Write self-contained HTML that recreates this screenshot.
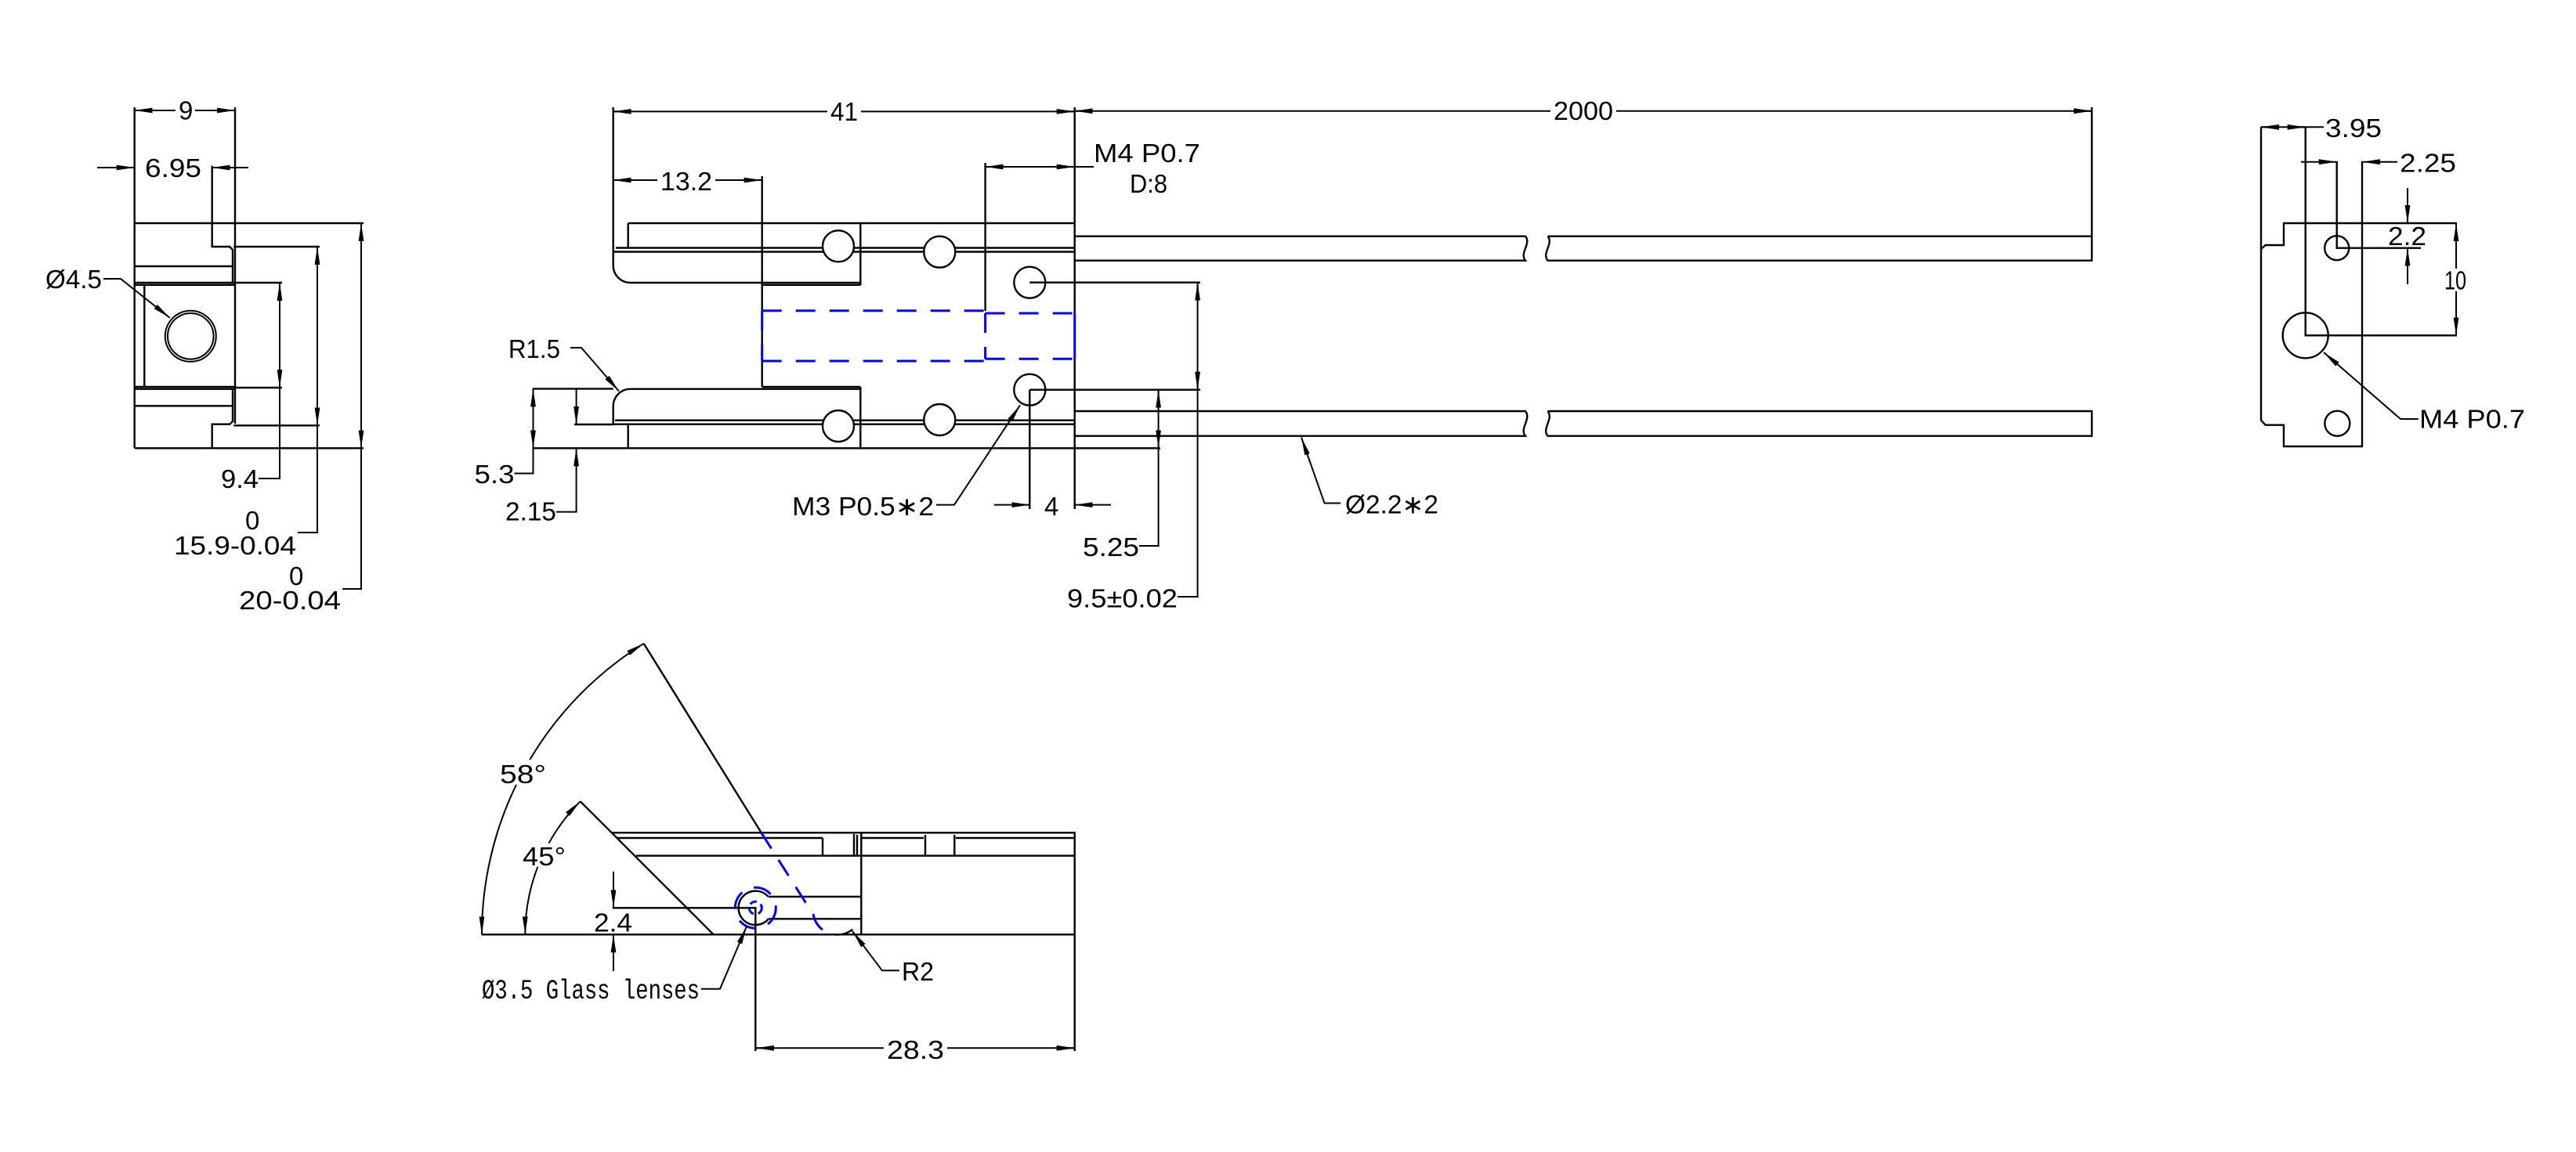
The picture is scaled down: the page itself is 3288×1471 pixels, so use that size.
<!DOCTYPE html>
<html><head><meta charset="utf-8"><style>
html,body{margin:0;padding:0;background:#fff;}
svg{display:block;}
text{font-family:"Liberation Sans","DejaVu Sans",sans-serif;font-size:33px;fill:#000;}
.m{font-family:"Liberation Mono","DejaVu Sans Mono",monospace;font-size:35px;}
</style></head><body>
<svg width="3288" height="1471" viewBox="0 0 3288 1471" xmlns="http://www.w3.org/2000/svg">
<defs>
<marker id="a" viewBox="0 0 23 8" markerWidth="23" markerHeight="8" refX="23" refY="4" orient="auto" markerUnits="userSpaceOnUse"><path d="M0,0.6 L23,4 L0,7.4 Z" fill="#000"/></marker>
</defs>
<rect width="3288" height="1471" fill="#fff"/>

<!-- ================= LEFT VIEW ================= -->
<g stroke="#000" stroke-width="2.4" fill="none">
<path d="M171.7,137 V572.3"/>
<path d="M171.7,285 H464"/>
<path d="M300,137 V541"/>
<path d="M270.7,211.6 V315 H293.3 L297,319 V361.5"/>
<path d="M297,496.5 V538 L293.3,541.7 H270.7 V572.3"/>
<path d="M298.3,315 H408"/>
<path d="M171.7,340 H297"/>
<path d="M171.7,361 H360"/>
<path d="M171.7,363.8 H300"/>
<path d="M184.3,364 V493"/>
<path d="M171.7,494 H300"/>
<path d="M171.7,496.7 H300"/>
<path d="M300,495 H360"/>
<path d="M171.7,518.3 H297"/>
<path d="M298.3,543.3 H408"/>
<path d="M171.7,572.3 H464"/>
<circle cx="243.3" cy="429.3" r="32.5" stroke-width="2"/>
<circle cx="243.3" cy="429.3" r="29.3" stroke-width="2"/>
</g>
<g stroke="#000" stroke-width="2" fill="none">
<path d="M171.7,141 H224 M249,141 H300"/>
<line x1="195" y1="141" x2="171.7" y2="141" marker-end="url(#a)"/>
<line x1="277" y1="141" x2="300" y2="141" marker-end="url(#a)"/>
<line x1="124" y1="214" x2="171.7" y2="214" marker-end="url(#a)"/>
<line x1="317" y1="214" x2="270.7" y2="214" marker-end="url(#a)"/>
<path d="M357,361 V611 H330"/>
<line x1="357" y1="384" x2="357" y2="361" marker-end="url(#a)"/>
<line x1="357" y1="472" x2="357" y2="495" marker-end="url(#a)"/>
<path d="M405,315 V680 H380"/>
<line x1="405" y1="338" x2="405" y2="315" marker-end="url(#a)"/>
<line x1="405" y1="520" x2="405" y2="543.3" marker-end="url(#a)"/>
<path d="M461,285 V752 H437"/>
<line x1="461" y1="308" x2="461" y2="285" marker-end="url(#a)"/>
<line x1="461" y1="549" x2="461" y2="572.3" marker-end="url(#a)"/>
<path d="M132,356 H154 L216.7,405.8" marker-end="url(#a)"/>
</g>
<text x="228" y="152.7">9</text>
<text x="185" y="226" textLength="72" lengthAdjust="spacingAndGlyphs">6.95</text>
<text x="58" y="368" textLength="72" lengthAdjust="spacingAndGlyphs">Ø4.5</text>
<text x="282" y="623" textLength="48" lengthAdjust="spacingAndGlyphs">9.4</text>
<text x="313" y="676">0</text>
<text x="222" y="708" textLength="156" lengthAdjust="spacingAndGlyphs">15.9-0.04</text>
<text x="369" y="747">0</text>
<text x="305" y="778" textLength="130" lengthAdjust="spacingAndGlyphs">20-0.04</text>

<!-- ================= MIDDLE VIEW ================= -->
<g stroke="#000" stroke-width="2.4" fill="none">
<path d="M782.7,137 V339 A22,22 0 0 0 804.7,361 H1098.3"/>
<path d="M972.7,225 V494"/>
<path d="M972.7,363.8 H1098.3"/>
<path d="M801.7,285 V316.5"/>
<path d="M801.7,285 H1371.7"/>
<path d="M1098.3,285 V364"/>
<path d="M786,316.5 H1371.7"/>
<path d="M782.7,321.5 H1371.7"/>
<path d="M972.7,494 H1098.3"/>
<path d="M804.7,496.7 H1098.3"/>
<path d="M804.7,496.7 A22,22 0 0 0 782.7,518.7 V541.7"/>
<path d="M785,536.7 H1371.7"/>
<path d="M782.7,541.7 H1371.7"/>
<path d="M801.7,541.7 V572.3"/>
<path d="M680,572.3 H1481"/>
<path d="M1098.3,494 V572.3"/>
<path d="M1371.7,137 V650"/>
<path d="M1257.6,208 V397"/>
<g fill="#fff">
<circle cx="1070" cy="314.3" r="20"/>
<circle cx="1199.3" cy="321.7" r="20"/>
<circle cx="1314.3" cy="360.7" r="20"/>
<circle cx="1314.3" cy="497.7" r="20"/>
<circle cx="1070" cy="544" r="20"/>
<circle cx="1199.3" cy="536" r="20"/>
</g>
<path d="M1314.3,360.7 H1532"/>
<path d="M1314.3,497.7 H1532"/>
<path d="M1314.3,497.7 V650"/>
<!-- fibers -->
<path d="M1371.7,301.7 H1947 C1955,311 1939,323 1947,332.7 H1371.7"/>
<path d="M1975.5,301.7 H2670 V332.7 H1975.5 C1967.5,323 1983.5,311 1975.5,301.7"/>
<path d="M1371.7,525 H1947 C1955,535 1939,547 1947,556.7 H1371.7"/>
<path d="M1975.5,525 H2670 V556.7 H1975.5 C1967.5,547 1983.5,535 1975.5,525"/>
<path d="M2670,137 V301.7"/>
<path d="M680,496.4 H782.7"/>
<path d="M733,542 H782.7"/>
</g>
<g stroke="#0000ff" stroke-width="3" fill="none">
<path d="M972.7,396.7 H1257.6 M972.7,461 H1257.6 M1257.6,400 H1371.7 M1257.6,458.3 H1371.7 M972.7,396.7 V461 M1257.6,400 V458.3" stroke-dasharray="25 18"/>
<path d="M1371.7,400 V458.3"/>
</g>
<g stroke="#000" stroke-width="2" fill="none">
<path d="M782.7,142.4 H1056 M1099,142.4 H1371.7"/>
<line x1="806" y1="142.4" x2="782.7" y2="142.4" marker-end="url(#a)"/>
<line x1="1348" y1="142.4" x2="1371.7" y2="142.4" marker-end="url(#a)"/>
<path d="M1371.7,141.7 H1979 M2063,141.7 H2670"/>
<line x1="1395" y1="141.7" x2="1371.7" y2="141.7" marker-end="url(#a)"/>
<line x1="2647" y1="141.7" x2="2670" y2="141.7" marker-end="url(#a)"/>
<path d="M782.7,230 H839 M913,230 H972.7"/>
<line x1="806" y1="230" x2="782.7" y2="230" marker-end="url(#a)"/>
<line x1="950" y1="230" x2="972.7" y2="230" marker-end="url(#a)"/>
<path d="M1257.6,213 H1396"/>
<line x1="1281" y1="213" x2="1257.6" y2="213" marker-end="url(#a)"/>
<line x1="1348" y1="213" x2="1371.7" y2="213" marker-end="url(#a)"/>
<path d="M680.5,496.4 V604.5 H656.5"/>
<line x1="680.5" y1="519" x2="680.5" y2="496.4" marker-end="url(#a)"/>
<line x1="680.5" y1="549" x2="680.5" y2="572.3" marker-end="url(#a)"/>
<line x1="735.6" y1="496.4" x2="735.6" y2="542" marker-end="url(#a)"/>
<path d="M710,653.6 H735.6 V572.3" marker-end="url(#a)"/>
<path d="M728,444 H742 L790,499.5" marker-end="url(#a)"/>
<path d="M1195,644.6 H1218 L1302,517.4" marker-end="url(#a)"/>
<line x1="1269" y1="644.6" x2="1314.3" y2="644.6" marker-end="url(#a)"/>
<line x1="1418" y1="644.6" x2="1371.7" y2="644.6" marker-end="url(#a)"/>
<path d="M1528.6,360.7 V762 H1503"/>
<line x1="1528.6" y1="384" x2="1528.6" y2="360.7" marker-end="url(#a)"/>
<line x1="1528.6" y1="474" x2="1528.6" y2="497.7" marker-end="url(#a)"/>
<path d="M1478.6,497.7 V697 H1454"/>
<line x1="1478.6" y1="521" x2="1478.6" y2="497.7" marker-end="url(#a)"/>
<line x1="1478.6" y1="549" x2="1478.6" y2="572.3" marker-end="url(#a)"/>
<path d="M1711,642.5 H1690.6 L1661,558.5" marker-end="url(#a)"/>
</g>
<text x="1060" y="154" textLength="35" lengthAdjust="spacingAndGlyphs">41</text>
<text x="1983" y="153" textLength="76" lengthAdjust="spacingAndGlyphs">2000</text>
<text x="843" y="243" textLength="66" lengthAdjust="spacingAndGlyphs">13.2</text>
<text x="1396" y="207" textLength="136" lengthAdjust="spacingAndGlyphs">M4  P0.7</text>
<text x="1442" y="246" textLength="48" lengthAdjust="spacingAndGlyphs">D:8</text>
<text x="649" y="457" textLength="66" lengthAdjust="spacingAndGlyphs">R1.5</text>
<text x="605.5" y="617" textLength="51" lengthAdjust="spacingAndGlyphs">5.3</text>
<text x="645" y="664.7" textLength="65" lengthAdjust="spacingAndGlyphs">2.15</text>
<text x="1011" y="658" textLength="181" lengthAdjust="spacingAndGlyphs">M3  P0.5∗2</text>
<text x="1333" y="657.8">4</text>
<text x="1382" y="709.8" textLength="72" lengthAdjust="spacingAndGlyphs">5.25</text>
<text x="1362" y="775.7" textLength="141" lengthAdjust="spacingAndGlyphs">9.5±0.02</text>
<text x="1717" y="655.6" textLength="119" lengthAdjust="spacingAndGlyphs">Ø2.2∗2</text>

<!-- ================= RIGHT VIEW ================= -->
<g stroke="#000" stroke-width="2.4" fill="none">
<path d="M2886,162 V536.7 L2891.7,542.7 H2915 V570 H3015 V206"/>
<path d="M2886,318 L2891.7,313 H2915 V285 H3136"/>
<path d="M2942.7,162 V428.3 H3136"/>
<path d="M2982.7,206 V316.7 H3090"/>
<circle cx="2942.7" cy="428.3" r="29"/>
<circle cx="2982.7" cy="316.7" r="15.5"/>
<circle cx="2983.3" cy="540.7" r="16"/>
</g>
<g stroke="#000" stroke-width="2" fill="none">
<path d="M2886,162.3 H2966"/>
<line x1="2909" y1="162.3" x2="2886" y2="162.3" marker-end="url(#a)"/>
<line x1="2920" y1="162.3" x2="2942.7" y2="162.3" marker-end="url(#a)"/>
<line x1="2937" y1="206.7" x2="2982.7" y2="206.7" marker-end="url(#a)"/>
<line x1="3060" y1="206.7" x2="3015" y2="206.7" marker-end="url(#a)"/>
<line x1="3073" y1="240" x2="3073" y2="285" marker-end="url(#a)"/>
<line x1="3073" y1="363" x2="3073" y2="316.7" marker-end="url(#a)"/>
<path d="M3135,285 V343 M3135,372 V428.3"/>
<line x1="3135" y1="308" x2="3135" y2="285" marker-end="url(#a)"/>
<line x1="3135" y1="405" x2="3135" y2="428.3" marker-end="url(#a)"/>
<path d="M3086.7,535 H3064 L2966,450" marker-end="url(#a)"/>
</g>
<text x="2968" y="175" textLength="72" lengthAdjust="spacingAndGlyphs">3.95</text>
<text x="3063" y="219.3" textLength="72" lengthAdjust="spacingAndGlyphs">2.25</text>
<text x="3048" y="313" textLength="49" lengthAdjust="spacingAndGlyphs">2.2</text>
<text x="3120" y="369.3" textLength="28" lengthAdjust="spacingAndGlyphs">10</text>
<text x="3088" y="546.7" textLength="135" lengthAdjust="spacingAndGlyphs">M4  P0.7</text>

<!-- ================= BOTTOM VIEW ================= -->
<g stroke="#000" stroke-width="2.4" fill="none">
<path d="M615,1193.3 H1371.7"/>
<path d="M821.7,821.7 L971.7,1063.3"/>
<path d="M740.7,1023.3 L910.7,1193.3"/>
<path d="M781.7,1063.3 H1371.7 V1342"/>
<path d="M788,1070 H1050 M1099.3,1070 H1179 M1220,1070 H1371.7"/>
<path d="M812,1092.7 H1371.7"/>
<path d="M1050,1070 V1092.7 M1090,1065 V1092.7 M1094,1066 V1092.7 M1099.3,1063.3 V1193.3 M1181,1066 V1092.7 M1218.3,1066 V1092.7"/>
<path d="M981,1145 H1099.3 M981,1173.3 H1099.3"/>
<path d="M980.6,1145 A21.7,21.7 0 1 0 980.9,1173.3"/>
<path d="M781.7,1159.3 H964.3 V1342"/>
<path d="M1065,1193.3 A31,31 0 0 0 1088.3,1186.7"/>
</g>
<g stroke="#0000ff" stroke-width="3" fill="none">
<path d="M971.7,1063.3 L1038.3,1168.3 A31,31 0 0 0 1065,1193.3" stroke-dasharray="24 17"/>
<circle cx="964.3" cy="1159.3" r="26" stroke-dasharray="24 16"/>
<circle cx="964.3" cy="1159.3" r="8" stroke-dasharray="9 6"/>
</g>
<g stroke="#000" stroke-width="2" fill="none">
<path d="M659,1002 A437.4,437.4 0 0 0 615,1193.3" marker-end="url(#a)"/>
<path d="M676.3,970 A437.4,437.4 0 0 1 821.7,821.7" marker-end="url(#a)"/>
<path d="M686.4,1106.7 A240.4,240.4 0 0 0 670.3,1193.3" marker-end="url(#a)"/>
<path d="M700.5,1076.7 A240.4,240.4 0 0 1 740.7,1023.3" marker-end="url(#a)"/>
<line x1="783" y1="1113" x2="783" y2="1159.3" marker-end="url(#a)"/>
<line x1="783" y1="1240" x2="783" y2="1193.3" marker-end="url(#a)"/>
<path d="M965,1338.3 H1128 M1209,1338.3 H1371.7"/>
<line x1="988" y1="1338.3" x2="965" y2="1338.3" marker-end="url(#a)"/>
<line x1="1348" y1="1338.3" x2="1371.7" y2="1338.3" marker-end="url(#a)"/>
<path d="M895,1262.7 H919 L953,1183" marker-end="url(#a)"/>
<path d="M1148,1239.3 H1126 L1088,1189" marker-end="url(#a)"/>
</g>
<text x="638" y="1000" textLength="59" lengthAdjust="spacingAndGlyphs">58°</text>
<text x="667" y="1105" textLength="55" lengthAdjust="spacingAndGlyphs">45°</text>
<text x="758" y="1189.3" textLength="49" lengthAdjust="spacingAndGlyphs">2.4</text>
<text class="m" x="615" y="1275" textLength="278" lengthAdjust="spacingAndGlyphs">Ø3.5 Glass lenses</text>
<text x="1151" y="1252" textLength="41" lengthAdjust="spacingAndGlyphs">R2</text>
<text x="1132" y="1352" textLength="73" lengthAdjust="spacingAndGlyphs">28.3</text>
</svg>
</body></html>
